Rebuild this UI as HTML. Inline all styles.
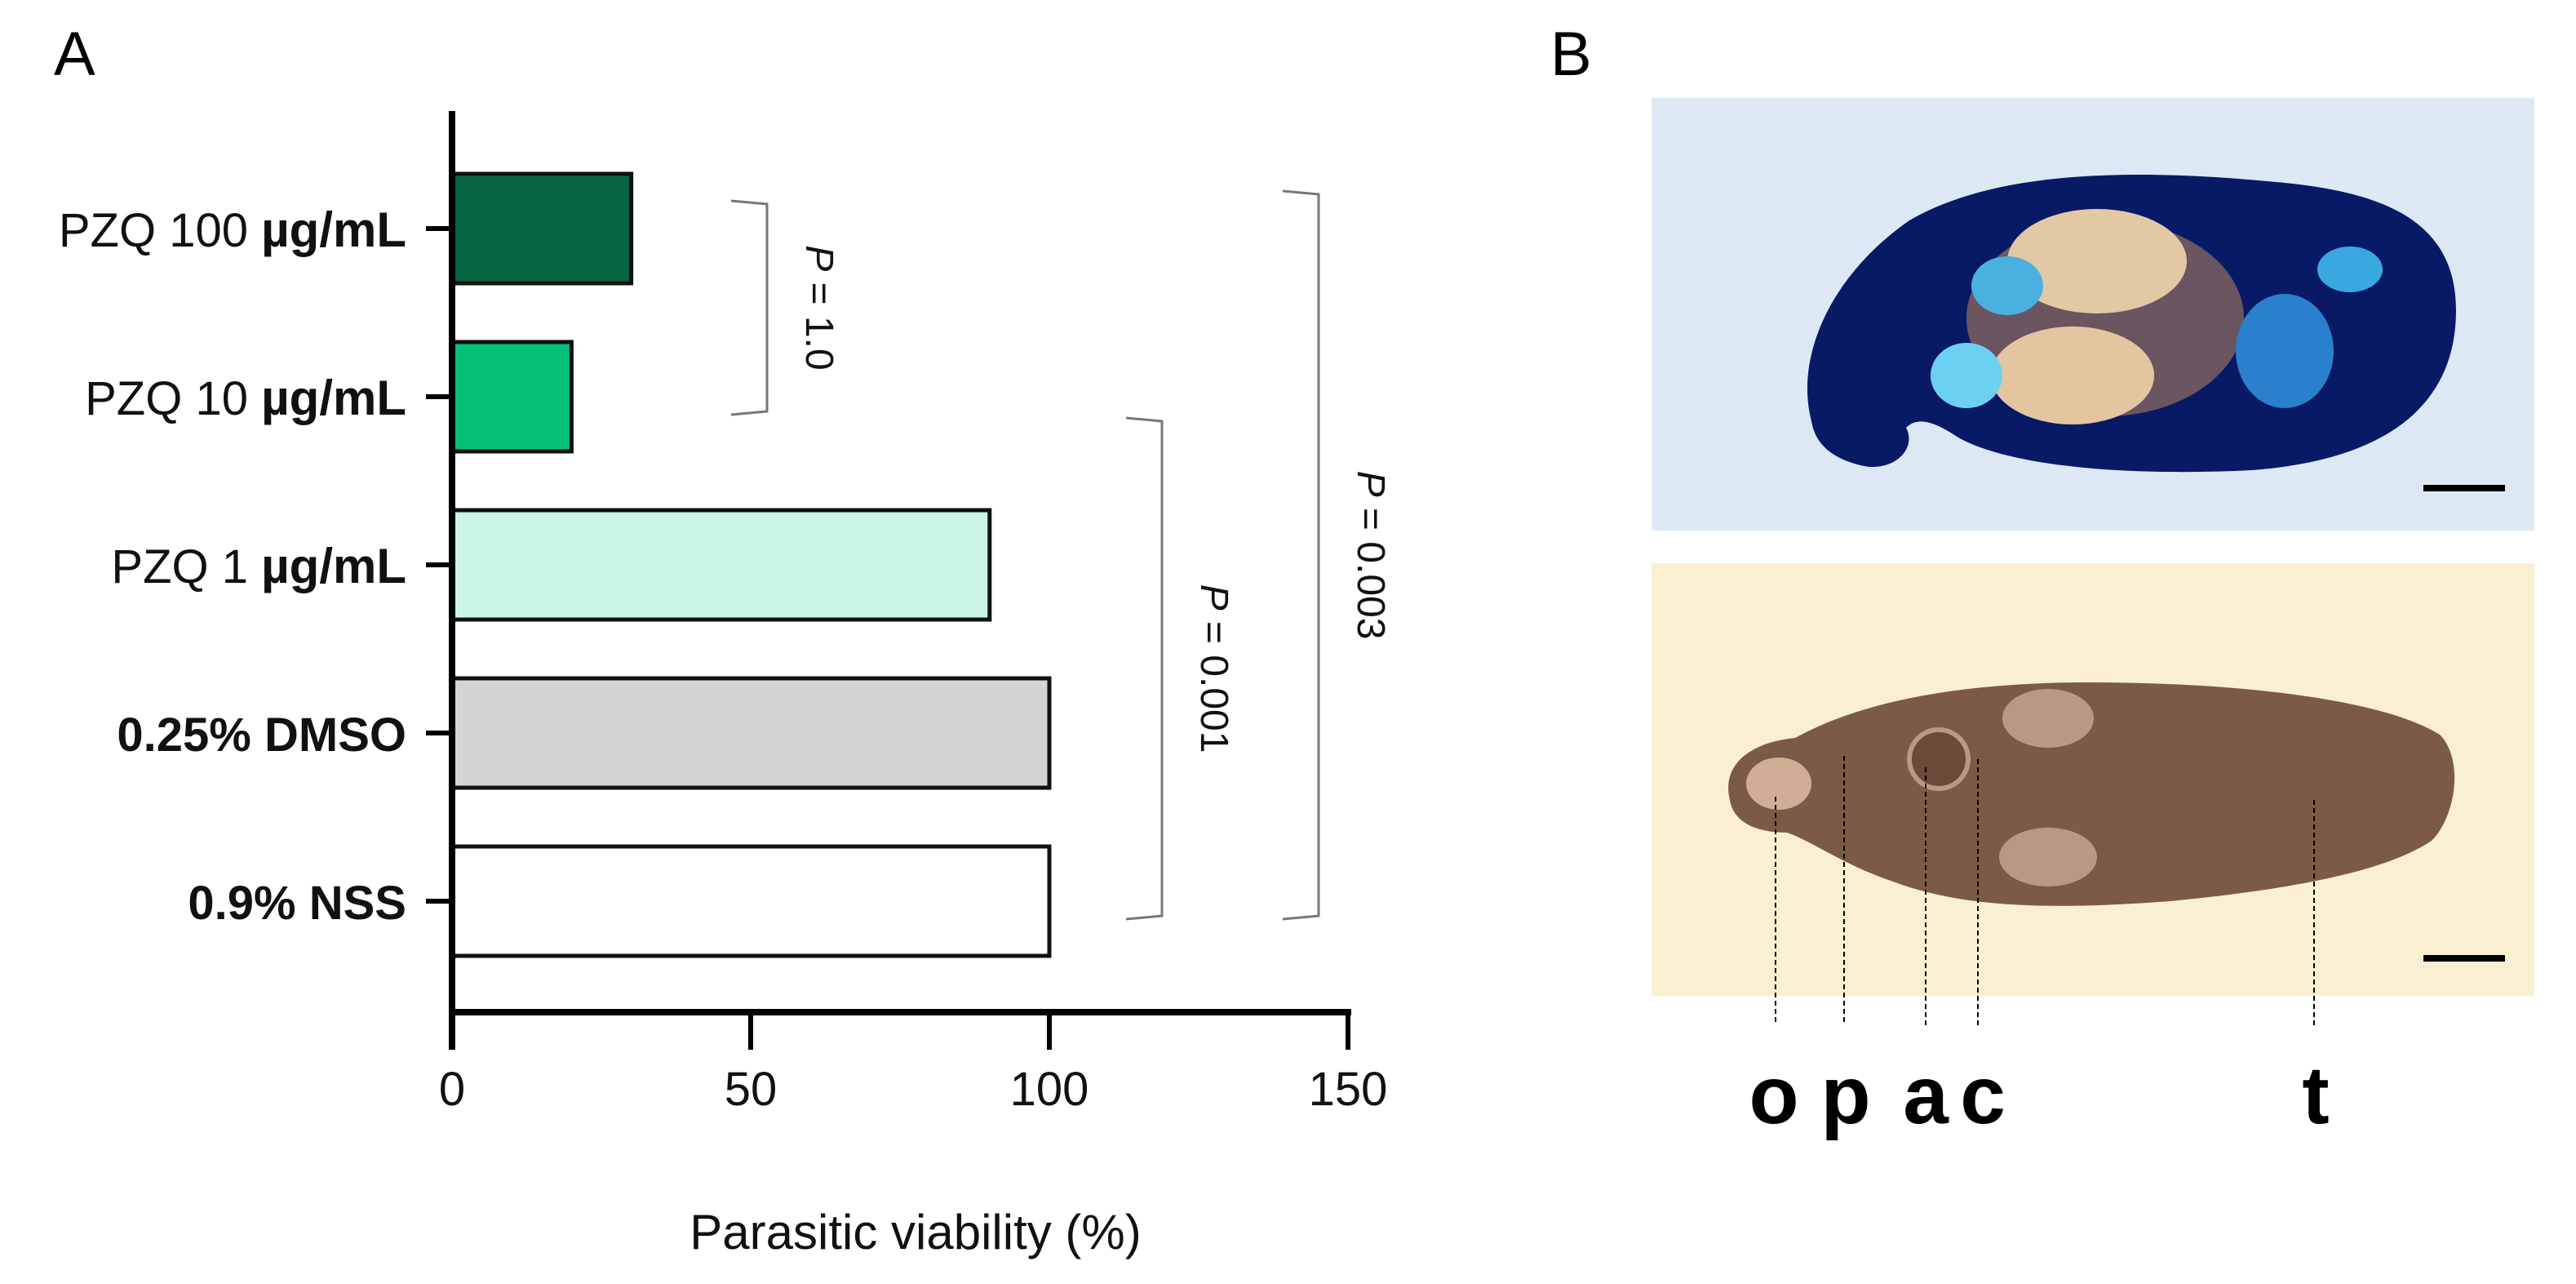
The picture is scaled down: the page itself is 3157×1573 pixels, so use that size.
<!DOCTYPE html>
<html><head><meta charset="utf-8"><style>
html,body{margin:0;padding:0;background:#fff;}
svg{display:block;font-family:"Liberation Sans",sans-serif;}
</style></head><body>
<svg id="fig" width="3157" height="1573" viewBox="0 0 1578.5 786.5">
<rect width="1578.5" height="786.5" fill="#fff"/>
<text x="33" y="46" font-size="38">A</text>
<text x="950" y="46" font-size="38">B</text>
<g id="chart"></g>
<g>
<rect x="1012" y="60" width="541" height="265" fill="#dde8f5"/>
<path d="M1110,258 C1100,220 1120,170 1170,135 C1230,100 1330,105 1400,112 C1460,118 1505,135 1505,190 C1505,250 1460,282 1380,288 C1300,292 1230,285 1200,268 C1185,258 1175,255 1168,262 C1175,275 1160,290 1140,285 C1120,280 1112,270 1110,258 Z" fill="#081a66"/>
<ellipse cx="1290" cy="195" rx="85" ry="60" fill="#6a5560"/>
<ellipse cx="1285" cy="160" rx="55" ry="32" fill="#e3c8a5"/>
<ellipse cx="1270" cy="230" rx="50" ry="30" fill="#e3c6a0"/>
<ellipse cx="1230" cy="175" rx="22" ry="18" fill="#4ab0e0"/>
<ellipse cx="1400" cy="215" rx="30" ry="35" fill="#2a80cc"/>
<ellipse cx="1205" cy="230" rx="22" ry="20" fill="#6cd0f0"/>
<ellipse cx="1440" cy="165" rx="20" ry="14" fill="#3aa7e0"/>
<rect x="1485" y="297" width="50" height="4" fill="#000"/>
<rect x="1012" y="345" width="541" height="265" fill="#fbefd1"/>
<path d="M1060,490 C1055,470 1070,455 1100,452 C1140,430 1200,418 1280,418 C1370,418 1460,428 1495,450 C1510,465 1505,500 1490,515 C1460,535 1400,545 1330,552 C1250,558 1200,555 1160,540 C1130,530 1110,515 1095,510 C1075,510 1062,503 1060,490 Z" fill="#7c5a48"/>
<ellipse cx="1090" cy="480" rx="20" ry="16" fill="#d0ae96"/>
<ellipse cx="1255" cy="440" rx="28" ry="18" fill="#b89a84"/>
<ellipse cx="1255" cy="525" rx="30" ry="18" fill="#b89a84"/>
<circle cx="1188" cy="465" r="18" fill="#6a4a38" stroke="#b89a84" stroke-width="3"/>
<rect x="1485" y="585" width="50" height="4" fill="#000"/>
<g stroke="#000" stroke-width="1" stroke-dasharray="3,2">
<line x1="1088" y1="488" x2="1088" y2="628"/>
<line x1="1130" y1="463" x2="1130" y2="628"/>
<line x1="1180" y1="470" x2="1180" y2="628"/>
<line x1="1212" y1="465" x2="1212" y2="628"/>
<line x1="1418" y1="490" x2="1418" y2="628"/>
</g>
<g font-size="50" font-weight="bold" text-anchor="middle">
<text x="1087" y="688">o</text>
<text x="1131" y="688">p</text>
<text x="1180" y="688">a</text>
<text x="1215" y="688">c</text>
<text x="1419" y="688">t</text>
</g>
</g>
</svg>
<script>
const categories=["PZQ 100","PZQ 10","PZQ 1","0.25% DMSO","0.9% NSS"];
const units=["µg/mL","µg/mL","µg/mL","",""];
const values=[30,20,90,100,100];
const colors=["#076641","#05c078","#cbf6e6","#d4d4d4","#ffffff"];
const xTicks=[0,50,100,150];
const pLabels=["P = 1.0","P = 0.001","P = 0.003"];
const pFrom=[0,1,0];
const pTo=[1,4,4];
const NS="http://www.w3.org/2000/svg";
const g=document.getElementById('chart');
const x0=277,x1=826,xMax=150;
const xs=v=>x0+(v/xMax)*(x1-x0);
const yTop=68,yBot=620;
const rowTop=140,rowStep=103;
const ys=i=>rowTop+i*rowStep;
const barH=67;
function el(t,a){const e=document.createElementNS(NS,t);for(const k in a)e.setAttribute(k,a[k]);g.appendChild(e);return e;}
values.forEach((v,i)=>{
 const r=el('rect',{x:xs(0),y:ys(i)-barH/2,width:xs(v)-xs(0),height:barH,fill:colors[i],stroke:'#111','stroke-width':2.5});
 
 
 const tk=el('line',{x1:x0-16,x2:x0,y1:ys(i),y2:ys(i),stroke:'#000','stroke-width':3});
 
 
 const t=el('text',{x:x0-28,y:ys(i)+11,'font-size':29,'text-anchor':'end',fill:'#111'});
 
 
 if(units[i]){t.textContent=categories[i]+'  ';const s=document.createElementNS(NS,'tspan');s.setAttribute('font-weight','bold');s.setAttribute('font-size','30');s.textContent=units[i];t.appendChild(s);}
 else{t.setAttribute('font-weight','bold');t.textContent=categories[i];}
});
const ya=el('line',{x1:x0,x2:x0,y1:yTop,y2:yBot+23,stroke:'#000','stroke-width':4});


const xa=el('line',{x1:x0-2,x2:x1+2,y1:yBot,y2:yBot,stroke:'#000','stroke-width':4});


xTicks.forEach(v=>{
 const l=el('line',{x1:xs(v),x2:xs(v),y1:yBot,y2:yBot+23,stroke:'#000','stroke-width':3});
 
 
 const t=el('text',{x:xs(v),y:yBot+57,'font-size':29,'text-anchor':'middle',fill:'#111'});
 
 
 t.textContent=v;
});
const xt=el('text',{x:561,y:765,'font-size':30,'text-anchor':'middle',fill:'#111'});


xt.textContent='Parasitic viability (%)';
const bx=[470,712,808];
const padTop=[-17,13,-23];
const padBot=[11,11,11];
pLabels.forEach((lab,k)=>{
 const yA=ys(pFrom[k])+padTop[k], yB=ys(pTo[k])+padBot[k];
 const p=el('path',{d:`M${bx[k]-22},${yA} L${bx[k]},${yA+2} L${bx[k]},${yB-2} L${bx[k]-22},${yB}`,fill:'none',stroke:'#777','stroke-width':1.5});
 
 
 const cy=(yA+yB)/2, cx=bx[k]+24;
 const t=el('text',{x:cx,y:cy,'font-size':24,'text-anchor':'middle',transform:`rotate(90 ${cx} ${cy})`,fill:'#111'});
 
 
 const it=document.createElementNS(NS,'tspan');it.setAttribute('font-style','italic');it.textContent='P';t.appendChild(it);
 t.appendChild(document.createTextNode(lab.slice(1)));
});
</script>
</body></html>
